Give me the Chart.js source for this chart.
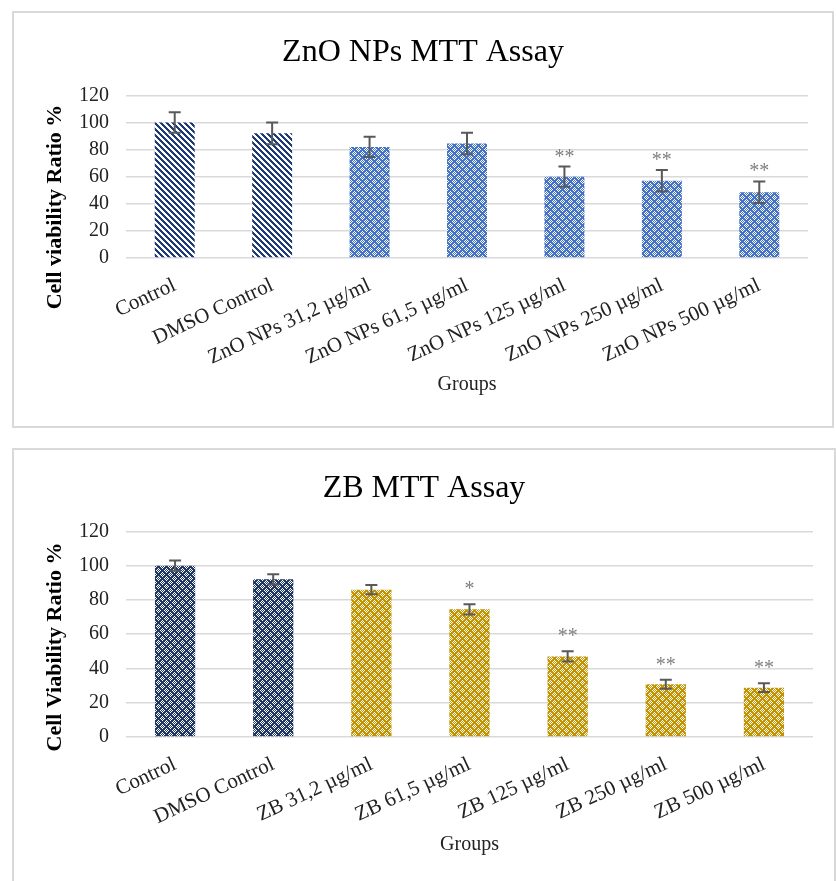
<!DOCTYPE html>
<html>
<head>
<meta charset="utf-8">
<script src="https://cdn.jsdelivr.net/npm/chart.js@4.4.1/dist/chart.umd.min.js"></script>
<style>
  body { margin: 0; background: #fff; width: 836px; height: 881px; overflow: hidden; position: relative; }
  .panel { position: absolute; left: 12px; border: 2px solid #d9d9d9; background: #fff; }
  #p1 { top: 11px; }
  #p2 { top: 448px; }
  canvas { display: block; }
</style>
</head>
<body>
<div class="panel" id="p1"><canvas id="znoChart" width="818" height="413"></canvas></div>
<div class="panel" id="p2"><canvas id="zbChart" width="820" height="433"></canvas></div>
<script>
// --- data ---
const znoLabels = ["Control", "DMSO Control", "ZnO NPs 31,2 µg/ml", "ZnO NPs 61,5 µg/ml",
  "ZnO NPs 125 µg/ml", "ZnO NPs 250 µg/ml", "ZnO NPs 500 µg/ml"];
const znoValues = [100, 92, 82, 84.5, 60, 57, 48.5];
const znoErrors = [7.5, 8, 7.5, 8, 7.5, 8, 8];
const znoStars = ["", "", "", "", "**", "**", "**"];

const zbLabels = ["Control", "DMSO Control", "ZB 31,2 µg/ml", "ZB 61,5 µg/ml",
  "ZB 125 µg/ml", "ZB 250 µg/ml", "ZB 500 µg/ml"];
const zbValues = [100, 92, 86, 74.5, 47, 30.8, 28.8];
const zbErrors = [3, 3, 2.7, 3, 3, 2.6, 2.6];
const zbStars = ["", "", "", "*", "**", "**", "**"];

const yTicks = [0, 20, 40, 60, 80, 100, 120];

const FONT = "'Liberation Serif', 'Times New Roman', serif";

// diagonal stripes, like Excel's wide downward diagonal
function stripePattern(color) {
  const n = 6;
  const c = document.createElement("canvas");
  c.width = n; c.height = n;
  const g = c.getContext("2d");
  g.fillStyle = "#ffffff";
  g.fillRect(0, 0, n, n);
  g.fillStyle = color;
  for (let y = 0; y < n; y++) {
    for (let x = 0; x < n; x++) {
      if ((((x - y) % n) + n) % n < 3) g.fillRect(x, y, 1, 1);
    }
  }
  return g.createPattern(c, "repeat");
}

// dotted lattice (interlocking diamonds of white dots)
function latticePattern(color) {
  const n = 8;
  const c = document.createElement("canvas");
  c.width = n; c.height = n;
  const g = c.getContext("2d");
  g.fillStyle = color;
  g.fillRect(0, 0, n, n);
  g.fillStyle = "#ffffff";
  const ring = [[2, 0], [-2, 0], [0, 2], [0, -2], [1, 1], [1, -1], [-1, 1], [-1, -1], [0, 0]];
  [[0, 0], [4, 4]].forEach(([cx, cy]) => {
    ring.forEach(([dx, dy]) => {
      g.fillRect((cx + dx + n) % n, (cy + dy + n) % n, 1, 1);
    });
  });
  return g.createPattern(c, "repeat");
}

const errorBarPlugin = {
  id: "errorBars",
  afterDatasetsDraw(chart, args, opts) {
    const { ctx } = chart;
    const y = chart.scales.y;
    const values = chart.data.datasets[0].data;
    const meta = chart.getDatasetMeta(0);
    ctx.save();
    ctx.strokeStyle = "#595959";
    ctx.lineWidth = 2;
    ctx.fillStyle = "#7f7f7f";
    ctx.font = "20px " + FONT;
    ctx.textAlign = "center";
    ctx.textBaseline = "alphabetic";
    meta.data.forEach((bar, i) => {
      const top = y.getPixelForValue(values[i] + opts.errors[i]);
      const bottom = y.getPixelForValue(values[i] - opts.errors[i]);
      ctx.beginPath();
      ctx.moveTo(bar.x, top);
      ctx.lineTo(bar.x, bottom);
      ctx.moveTo(bar.x - 6, top);
      ctx.lineTo(bar.x + 6, top);
      ctx.moveTo(bar.x - 6, bottom);
      ctx.lineTo(bar.x + 6, bottom);
      ctx.stroke();
      if (opts.stars[i]) ctx.fillText(opts.stars[i], bar.x, top - opts.starGap);
    });
    ctx.restore();

    // y axis title, placed like the Excel original
    ctx.save();
    ctx.translate(opts.titleX, opts.titleY);
    ctx.rotate(-Math.PI / 2);
    ctx.font = "bold 22px " + FONT;
    ctx.fillStyle = "#000";
    ctx.textAlign = "center";
    ctx.textBaseline = "middle";
    ctx.fillText(opts.yTitle, 0, 0);
    ctx.restore();
  },
};

function makeChart(canvasId, cfg) {
  new Chart(document.getElementById(canvasId), {
    type: "bar",
    data: {
      labels: cfg.labels,
      datasets: [{
        data: cfg.values,
        backgroundColor: cfg.colors,
        borderWidth: 0,
        categoryPercentage: 1,
        barPercentage: 0.41,
      }],
    },
    plugins: [errorBarPlugin],
    options: {
      responsive: false,
      animation: false,
      layout: { padding: { left: cfg.sidePad[0], top: 0, right: cfg.sidePad[1], bottom: 0 } },
      plugins: {
        legend: { display: false },
        tooltip: { enabled: false },
        title: {
          display: true,
          text: cfg.title,
          color: "#000",
          font: { family: FONT, size: 32, weight: "normal" },
          padding: { top: cfg.titleTop, bottom: 24 },
        },
        errorBars: {
          errors: cfg.errors,
          stars: cfg.stars,
          starGap: cfg.starGap,
          yTitle: cfg.yTitle,
          titleX: 41,
          titleY: cfg.yTitleY,
        },
      },
      scales: {
        x: {
          grid: { display: false },
          border: { display: false },
          ticks: {
            color: "#222",
            font: { family: FONT, size: 21 },
            minRotation: 25,
            maxRotation: 25,
            autoSkip: false,
            padding: 7,
          },
          title: {
            display: true,
            text: "Groups",
            color: "#222",
            font: { family: FONT, size: 20 },
            padding: { top: 0, bottom: cfg.groupsPad },
          },
          afterFit(scale) { scale.height = cfg.xHeight; },
        },
        y: {
          min: 0,
          max: 120,
          afterBuildTicks(scale) { scale.ticks = yTicks.map((v) => ({ value: v })); },
          grid: { color: "#d9d9d9", lineWidth: 1.5, drawTicks: false },
          border: { display: false },
          ticks: {
            color: "#222",
            font: { family: FONT, size: 20 },
            padding: 17,
            autoSkip: false,
          },
          afterFit(scale) { scale.width = 112 - cfg.sidePad[0]; },
        },
      },
    },
  });
}

const blueLattice = latticePattern("#4472c4");
const navyStripes = stripePattern("#1f3b7a");
const navyLattice = latticePattern("#1f3864");
const goldLattice = latticePattern("#c49400");

makeChart("znoChart", {
  labels: znoLabels,
  values: znoValues,
  errors: znoErrors,
  stars: znoStars,
  colors: znoLabels.map((l, i) => (i < 2 ? navyStripes : blueLattice)),
  title: "ZnO NPs MTT Assay",
  yTitle: "Cell viability Ratio %",
  titleTop: 20,
  sidePad: [24, 24],
  xHeight: 168,
  groupsPad: 29,
  starGap: 4,
  yTitleY: 194,
});

makeChart("zbChart", {
  labels: zbLabels,
  values: zbValues,
  errors: zbErrors,
  stars: zbStars,
  colors: zbLabels.map((l, i) => (i < 2 ? navyLattice : goldLattice)),
  title: "ZB MTT Assay",
  yTitle: "Cell Viability Ratio %",
  titleTop: 19,
  sidePad: [21, 21],
  xHeight: 146,
  groupsPad: 26,
  starGap: 9,
  yTitleY: 197,
});
</script>
</body>
</html>
